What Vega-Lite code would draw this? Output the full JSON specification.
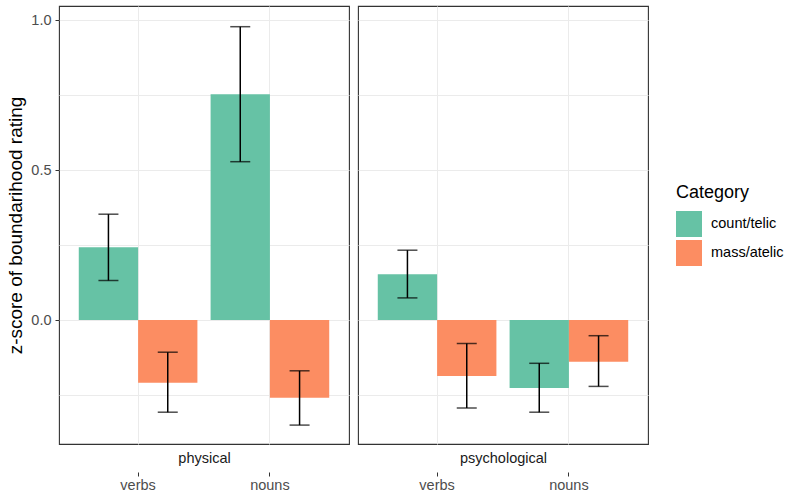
{
  "$schema": "https://vega.github.io/schema/vega-lite/v6.json",
  "padding": {"left": 6, "top": 5, "right": 5, "bottom": 5},
  "background": "white",
  "data": {"values": [
    {"domain": "physical", "type": "verbs", "Category": "count/telic", "z": 0.243, "lo": 0.132, "hi": 0.353},
    {"domain": "physical", "type": "verbs", "Category": "mass/atelic", "z": -0.209, "lo": -0.307, "hi": -0.107},
    {"domain": "physical", "type": "nouns", "Category": "count/telic", "z": 0.753, "lo": 0.528, "hi": 0.978},
    {"domain": "physical", "type": "nouns", "Category": "mass/atelic", "z": -0.259, "lo": -0.35, "hi": -0.169},
    {"domain": "psychological", "type": "verbs", "Category": "count/telic", "z": 0.153, "lo": 0.074, "hi": 0.233},
    {"domain": "psychological", "type": "verbs", "Category": "mass/atelic", "z": -0.186, "lo": -0.293, "hi": -0.078},
    {"domain": "psychological", "type": "nouns", "Category": "count/telic", "z": -0.226, "lo": -0.307, "hi": -0.144},
    {"domain": "psychological", "type": "nouns", "Category": "mass/atelic", "z": -0.139, "lo": -0.221, "hi": -0.052}
  ]},
  "spacing": 7,
  "hconcat": [
    {
      "width": 290,
      "height": 438,
      "transform": [{"filter": "datum.domain === 'physical'"}],
      "encoding": {
        "x": {"field": "type", "type": "nominal", "sort": ["verbs", "nouns"],
          "scale": {"paddingInner": 0.1, "paddingOuter": 0.15},
          "axis": {"title": "physical", "titleY": -14, "titleBaseline": "middle", "offset": 28, "domain": false, "labelAngle": 0, "grid": true, "bandPosition": 0.5}},
        "xOffset": {"field": "Category", "type": "nominal", "scale": {"paddingInner": 0, "paddingOuter": 0}}
      },
      "layer": [
        {"mark": {"type": "bar"},
         "encoding": {
           "y": {"field": "z", "type": "quantitative", "scale": {"domain": [-0.413, 1.047], "nice": false, "zero": false},
             "axis": {"title": "z-score of boundarihood rating", "values": [-0.25, 0, 0.25, 0.5, 0.75, 1],
               "labelExpr": "(abs(datum.value * 2 - round(datum.value * 2)) < 0.001) ? format(datum.value, '.1f') : ''",
               "tickOpacity": {"condition": {"test": "abs(datum.value * 2 - round(datum.value * 2)) < 0.001", "value": 1}, "value": 0},
               "grid": true}},
           "color": {"field": "Category", "type": "nominal", "scale": {"range": ["#66C2A5", "#FC8D62"]},
             "legend": {"orient": "none", "legendX": 617, "legendY": 178, "symbolType": "square", "symbolSize": 676, "symbolStrokeWidth": 0, "symbolOpacity": 1, "titleFontSize": 18, "titleFontWeight": "normal", "titleColor": "#000000", "labelFontSize": 14.5, "labelColor": "#000000", "rowPadding": 3, "labelOffset": 9, "titlePadding": 9}}
         }},
        {"mark": {"type": "rule", "color": "black", "strokeWidth": 1.5},
         "encoding": {"y": {"field": "lo", "type": "quantitative"}, "y2": {"field": "hi"}}},
        {"mark": {"type": "tick", "color": "black", "thickness": 1.5, "size": 20, "orient": "horizontal"},
         "encoding": {"y": {"field": "lo", "type": "quantitative"}}},
        {"mark": {"type": "tick", "color": "black", "thickness": 1.5, "size": 20, "orient": "horizontal"},
         "encoding": {"y": {"field": "hi", "type": "quantitative"}}}
      ]
    },
    {
      "width": 290,
      "height": 438,
      "transform": [{"filter": "datum.domain === 'psychological'"}],
      "encoding": {
        "x": {"field": "type", "type": "nominal", "sort": ["verbs", "nouns"],
          "scale": {"paddingInner": 0.1, "paddingOuter": 0.15},
          "axis": {"title": "psychological", "titleY": -14, "titleBaseline": "middle", "offset": 28, "domain": false, "labelAngle": 0, "grid": true, "bandPosition": 0.5}},
        "xOffset": {"field": "Category", "type": "nominal", "scale": {"paddingInner": 0, "paddingOuter": 0}}
      },
      "layer": [
        {"mark": {"type": "bar"},
         "encoding": {
           "y": {"field": "z", "type": "quantitative", "scale": {"domain": [-0.413, 1.047], "nice": false, "zero": false},
             "axis": {"values": [-0.25, 0, 0.25, 0.5, 0.75, 1], "grid": true, "labels": false, "ticks": false, "domain": false, "title": null}},
           "color": {"field": "Category", "type": "nominal", "scale": {"range": ["#66C2A5", "#FC8D62"]}, "legend": null}
         }},
        {"mark": {"type": "rule", "color": "black", "strokeWidth": 1.5},
         "encoding": {"y": {"field": "lo", "type": "quantitative"}, "y2": {"field": "hi"}}},
        {"mark": {"type": "tick", "color": "black", "thickness": 1.5, "size": 20, "orient": "horizontal"},
         "encoding": {"y": {"field": "lo", "type": "quantitative"}}},
        {"mark": {"type": "tick", "color": "black", "thickness": 1.5, "size": 20, "orient": "horizontal"},
         "encoding": {"y": {"field": "hi", "type": "quantitative"}}}
      ]
    }
  ],
  "resolve": {"scale": {"color": "shared"}},
  "config": {
    "font": "Liberation Sans",
    "view": {"stroke": "#333333", "strokeWidth": 1.1},
    "axis": {
      "gridColor": "#EBEBEB", "gridWidth": 1, "gridOpacity": 1,
      "tickColor": "#333333", "tickSize": 4, "tickWidth": 1,
      "labelColor": "#4D4D4D", "labelFontSize": 14.5, "labelPadding": 3,
      "titleColor": "#000000", "titleFontSize": 19, "titleFontWeight": "normal",
      "domain": false
    },
    "axisX": {"titleFontSize": 14.5, "titleColor": "#1A1A1A", "labelPadding": 2},
    "axisY": {"titlePadding": 5, "labelPadding": 4}
  }
}
